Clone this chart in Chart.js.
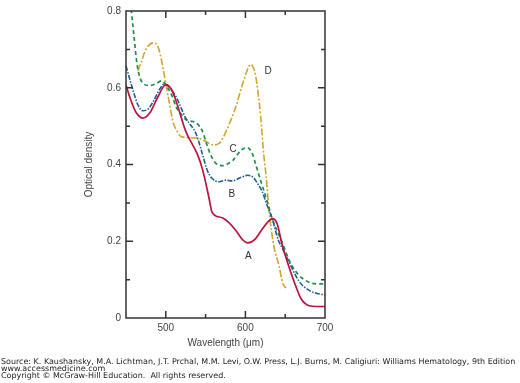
<!DOCTYPE html>
<html><head><meta charset="utf-8">
<style>html,body{margin:0;padding:0;background:#fff;}canvas{display:block;}</style>
<script src="https://cdn.jsdelivr.net/npm/chart.js@4"></script>
</head><body>
<canvas id="c" width="520" height="383"></canvas>
<script>
// ---- data (wavelength nm, optical density) ----
const wlA = [450,456,462,471,480,490,500,507,513,525,540,546,552,555.5,557.5,562,571,579,588,596,603,612,620,628,634,640,646,654,662,670,680,690,700];
const odA = [0.607,0.568,0.538,0.521,0.535,0.576,0.608,0.596,0.565,0.487,0.425,0.388,0.335,0.300,0.279,0.267,0.261,0.249,0.228,0.205,0.196,0.205,0.228,0.250,0.259,0.245,0.192,0.138,0.090,0.050,0.032,0.030,0.030];

const wlB = [450,455,460,465,471,478,485,492,498,505,513,525,538,546,552,558,567,575,584,594,603,610,616,621,627,634,641,648,655,667,680,690,700];
const odB = [0.657,0.620,0.585,0.555,0.540,0.545,0.567,0.595,0.610,0.600,0.576,0.521,0.480,0.427,0.385,0.364,0.355,0.359,0.357,0.366,0.372,0.366,0.348,0.330,0.295,0.257,0.205,0.175,0.145,0.097,0.072,0.064,0.060];

const wlC = [450,454,457,460,463,466,471,479,487,495,500,508,513,519,526,534,540,546,551,556,562,571,578,584,594,602,609,613,619,625,634,646,655,662,670,683,692,700];
const odC = [0.950,0.860,0.795,0.735,0.675,0.638,0.612,0.606,0.610,0.618,0.608,0.578,0.550,0.532,0.516,0.512,0.505,0.487,0.455,0.427,0.405,0.397,0.402,0.410,0.436,0.444,0.427,0.400,0.359,0.320,0.257,0.198,0.150,0.125,0.106,0.091,0.089,0.089];

const wlD = [465,469,475,484,490,496,500,505,509,515,520,530,542,552,559,567,572,577,583,589,595,600,604,607,610,613,616,619,623,626,630,636,642,647,651];
const odD = [0.644,0.666,0.700,0.717,0.708,0.657,0.610,0.555,0.512,0.484,0.472,0.470,0.468,0.458,0.451,0.455,0.470,0.492,0.522,0.557,0.600,0.632,0.654,0.661,0.652,0.630,0.585,0.529,0.427,0.370,0.274,0.185,0.138,0.090,0.078];

const curveNames = ['A','B','C','D'];
const labelWl = [603.7,583,584.6,628.6];
const labelOd = [0.161,0.323,0.440,0.642];

const xTickLabels = [500,600,700];
const yTickLabels = [0,0.2,0.4,0.6,0.8];

const xTitle = 'Wavelength (\u03bcm)';
const yTitle = 'Optical density';
const footerLines = [
  'Source: K. Kaushansky, M.A. Lichtman, J.T. Prchal, M.M. Levi, O.W. Press, L.J. Burns, M. Caligiuri: Williams Hematology, 9th Edition',
  'www.accessmedicine.com',
  'Copyright \u00a9 McGraw-Hill Education.  All rights reserved.'
];

const pts = (xs, ys) => xs.map((x,i)=>({x:x, y:ys[i]}));
const AXIS_FONT = {family:'"Liberation Sans", Arial, sans-serif', size:10};
const AXIS_COLOR = '#444';

const frameAndTicks = {
  id:'frameAndTicks',
  afterDraw(chart){
    const {ctx, chartArea:a, scales:{x,y}} = chart;
    ctx.save();
    ctx.strokeStyle = '#333';
    ctx.lineWidth = 1.5;
    ctx.beginPath();
    x.ticks.forEach(t=>{
      const px = x.getPixelForValue(t.value);
      if (px <= a.left+1 || px >= a.right-1) return;
      const major = xTickLabels.includes(Math.round(t.value));
      const len = major ? 7 : 4;
      ctx.moveTo(px, a.bottom); ctx.lineTo(px, a.bottom-len);
      ctx.moveTo(px, a.top); ctx.lineTo(px, a.top+len);
    });
    y.ticks.forEach(t=>{
      const py = y.getPixelForValue(t.value);
      if (py <= a.top+1 || py >= a.bottom-1) return;
      const major = Math.round(t.value*10)%2===0;
      const len = major ? 7 : 4;
      ctx.moveTo(a.left, py); ctx.lineTo(a.left+len, py);
      ctx.moveTo(a.right, py); ctx.lineTo(a.right-len, py);
    });
    ctx.stroke();
    ctx.strokeRect(a.left, a.top, a.right-a.left, a.bottom-a.top);

    ctx.fillStyle = '#333';
    ctx.font = '10px "Liberation Sans", Arial, sans-serif';
    ctx.textAlign = 'center';
    ctx.textBaseline = 'middle';
    curveNames.forEach((n,i)=>{
      ctx.fillText(n, x.getPixelForValue(labelWl[i]), y.getPixelForValue(labelOd[i]));
    });

    ctx.fillStyle = '#222';
    ctx.textAlign = 'left';
    ctx.font = '10px "DejaVu Sans", Verdana, sans-serif';
    const w10 = ctx.measureText(footerLines[0]).width;
    const fs = 10 * 515 / w10;
    ctx.font = fs.toFixed(2) + 'px "DejaVu Sans", Verdana, sans-serif';
    const ys = [362.3, 369.3, 376.3];
    footerLines.forEach((l,i)=> ctx.fillText(l, 1, ys[i]));
    ctx.restore();
  }
};

new Chart(document.getElementById('c'), {
  type:'line',
  data:{
    datasets:[
      {label:'A', data:pts(wlA,odA), borderColor:'#bb1340', borderWidth:1.7, pointRadius:0, cubicInterpolationMode:'monotone', fill:false},
      {label:'B', data:pts(wlB,odB), borderColor:'#1d5f9b', borderWidth:1.6, borderDash:[5,1.5,1.5,1.5], pointRadius:0, cubicInterpolationMode:'monotone', fill:false},
      {label:'C', data:pts(wlC,odC), borderColor:'#1f8f4e', borderWidth:1.7, borderDash:[4,3], pointRadius:0, cubicInterpolationMode:'monotone', fill:false},
      {label:'D', data:pts(wlD,odD), borderColor:'#d1a62e', borderWidth:1.6, borderDash:[7,2,2,2], pointRadius:0, cubicInterpolationMode:'monotone', fill:false}
    ]
  },
  options:{
    responsive:false,
    animation:false,
    devicePixelRatio:1,
    layout:{padding:{left:0, right:195, top:5, bottom:0}},
    plugins:{legend:{display:false}, tooltip:{enabled:false}},
    scales:{
      x:{
        type:'linear', min:450, max:700,
        grid:{display:false, drawTicks:false},
        border:{display:false},
        ticks:{stepSize:50, padding:4, color:AXIS_COLOR, font:AXIS_FONT, maxRotation:0,
          callback:(v)=> xTickLabels.includes(Math.round(v)) ? String(Math.round(v)) : ''},
        title:{display:true, text:xTitle, color:AXIS_COLOR, font:AXIS_FONT, padding:{top:0,bottom:33.5}},
        afterFit:(s)=>{ s.height = 65; }
      },
      y:{
        type:'linear', min:0, max:0.8,
        grid:{display:false, drawTicks:false},
        border:{display:false},
        ticks:{stepSize:0.1, padding:5, color:AXIS_COLOR, font:AXIS_FONT,
          callback:(v)=>{ const k=Math.round(v*10); return k%2===0 ? (k===0?'0':(k/10).toFixed(1)) : ''; }},
        title:{display:true, text:yTitle, color:AXIS_COLOR, font:AXIS_FONT, padding:{top:83,bottom:0}},
        afterFit:(s)=>{ s.width = 126; }
      }
    }
  },
  plugins:[frameAndTicks]
});
</script>
</body></html>
